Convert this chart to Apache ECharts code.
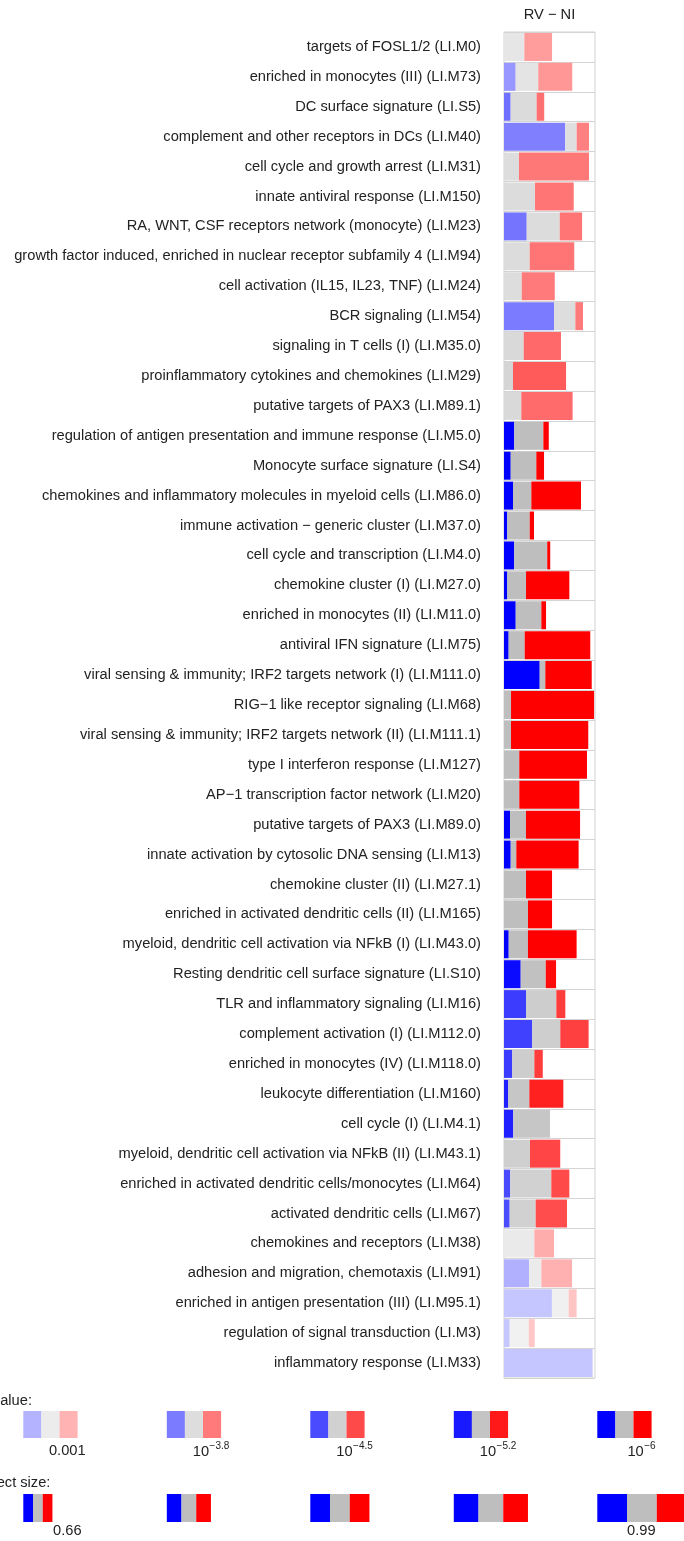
<!DOCTYPE html>
<html>
<head>
<meta charset="utf-8">
<script src="https://cdn.jsdelivr.net/npm/echarts@6/dist/echarts.min.js"></script>
<style>
  html, body { margin: 0; padding: 0; background: #ffffff; }
  #chart { width: 684px; height: 1541px; }
</style>
</head>
<body>
<div id="chart"></div>
<script>
// Module enrichment panel for the contrast RV − NI.
// Each row: bar length = effect size (AUC), split into the share of
// down-regulated (blue), unchanged (grey) and up-regulated (red) genes,
// colour strength = significance of the enrichment.

const contrast = 'RV − NI';

const modules = [
  'targets of FOSL1/2 (LI.M0)',
  'enriched in monocytes (III) (LI.M73)',
  'DC surface signature (LI.S5)',
  'complement and other receptors in DCs (LI.M40)',
  'cell cycle and growth arrest (LI.M31)',
  'innate antiviral response (LI.M150)',
  'RA, WNT, CSF receptors network (monocyte) (LI.M23)',
  'growth factor induced, enriched in nuclear receptor subfamily 4 (LI.M94)',
  'cell activation (IL15, IL23, TNF) (LI.M24)',
  'BCR signaling (LI.M54)',
  'signaling in T cells (I) (LI.M35.0)',
  'proinflammatory cytokines and chemokines (LI.M29)',
  'putative targets of PAX3 (LI.M89.1)',
  'regulation of antigen presentation and immune response (LI.M5.0)',
  'Monocyte surface signature (LI.S4)',
  'chemokines and inflammatory molecules in myeloid cells (LI.M86.0)',
  'immune activation − generic cluster (LI.M37.0)',
  'cell cycle and transcription (LI.M4.0)',
  'chemokine cluster (I) (LI.M27.0)',
  'enriched in monocytes (II) (LI.M11.0)',
  'antiviral IFN signature (LI.M75)',
  'viral sensing & immunity; IRF2 targets network (I) (LI.M111.0)',
  'RIG−1 like receptor signaling (LI.M68)',
  'viral sensing & immunity; IRF2 targets network (II) (LI.M111.1)',
  'type I interferon response (LI.M127)',
  'AP−1 transcription factor network (LI.M20)',
  'putative targets of PAX3 (LI.M89.0)',
  'innate activation by cytosolic DNA sensing (LI.M13)',
  'chemokine cluster (II) (LI.M27.1)',
  'enriched in activated dendritic cells (II) (LI.M165)',
  'myeloid, dendritic cell activation via NFkB (I) (LI.M43.0)',
  'Resting dendritic cell surface signature (LI.S10)',
  'TLR and inflammatory signaling (LI.M16)',
  'complement activation (I) (LI.M112.0)',
  'enriched in monocytes (IV) (LI.M118.0)',
  'leukocyte differentiation (LI.M160)',
  'cell cycle (I) (LI.M4.1)',
  'myeloid, dendritic cell activation via NFkB (II) (LI.M43.1)',
  'enriched in activated dendritic cells/monocytes (LI.M64)',
  'activated dendritic cells (LI.M67)',
  'chemokines and receptors (LI.M38)',
  'adhesion and migration, chemotaxis (LI.M91)',
  'enriched in antigen presentation (III) (LI.M95.1)',
  'regulation of signal transduction (LI.M3)',
  'inflammatory response (LI.M33)'
];

// effect size (AUC) per module
const auc = [
  0.764, 0.875, 0.721, 0.967, 0.967, 0.883, 0.929, 0.886, 0.779, 0.934,
  0.813, 0.841, 0.877, 0.746, 0.720, 0.923, 0.665, 0.754, 0.859, 0.731,
  0.974, 0.982, 0.995, 0.963, 0.956, 0.914, 0.918, 0.910, 0.764, 0.764,
  0.899, 0.786, 0.837, 0.965, 0.713, 0.826, 0.753, 0.809, 0.859, 0.846,
  0.775, 0.874, 0.899, 0.669, 0.987
];

// percentage of module genes going down / up
const downPct = [
  0, 17.1, 16.6, 72.1, 0, 0, 29.1, 0, 0, 63.3,
  0, 0, 0, 23.0, 16.8, 11.7, 11.0, 22.2, 5.1, 27.9,
  5.4, 40.7, 0, 0, 0, 0, 7.9, 9.0, 0, 0,
  6.5, 32.1, 35.9, 33.4, 21.4, 7.3, 20.2, 0, 9.6, 9.0,
  0, 36.8, 66.0, 18.6, 100
];
const upPct = [
  57.7, 49.8, 18.9, 14.5, 82.4, 55.5, 28.6, 63.4, 65.1, 9.7,
  65.4, 85.5, 74.8, 12.1, 19.3, 64.5, 14.3, 6.5, 66.3, 11.2,
  76.0, 52.9, 92.2, 91.7, 81.6, 79.7, 71.1, 83.5, 54.2, 50.0,
  67.0, 19.8, 14.7, 33.5, 21.7, 57.3, 0, 53.8, 27.6, 49.7,
  39.4, 45.1, 11.0, 19.5, 0
];

// log10 of the enrichment p-value
const log10P = [
  -3.33, -3.40, -3.95, -3.73, -3.84, -3.90, -3.90, -3.90, -3.80, -3.80,
  -4.05, -4.25, -4.03, -6.5, -6.5, -6.5, -6.5, -6.5, -6.5, -6.5,
  -6.5, -6.5, -6.5, -6.5, -6.5, -6.5, -6.5, -6.5, -6.5, -6.5,
  -6.5, -5.40, -4.70, -4.65, -4.70, -5.10, -5.10, -4.58, -4.50, -4.47,
  -3.10, -3.04, -2.74, -2.70, -2.74
];

// legend scales
const legendLog10P = [-3, -3.8, -4.5, -5.2, -6];
const legendPBase = ['0.001', '10', '10', '10', '10'];
const legendPExp = ['', '−3.8', '−4.5', '−5.2', '−6'];
const legendAUC = [0.66, 0.7425, 0.825, 0.9075, 0.99];
const legendAUCLabels = ['0.66', '', '', '', '0.99'];

// ---- styling ----
const FONT = '"Liberation Sans", Arial, Helvetica, sans-serif';
const FS = 14.67;
const TXT = '#222222';
const BASE = { down: [0, 0, 255], none: [190, 190, 190], up: [255, 0, 0] };

function strength(lp) {
  const a = 0.3 + 0.273 * (-lp - 3);
  return Math.max(0.12, Math.min(1, a));
}
function tint(rgb, a) {
  const c = rgb.map(v => Math.round(255 - a * (255 - v)));
  return 'rgb(' + c.join(',') + ')';
}

// stacked segment lengths in units of (AUC − 0.5)
function segs(kind) {
  return modules.map((m, i) => {
    const span = auc[i] - 0.5;
    let pct;
    if (kind === 'down') pct = downPct[i];
    else if (kind === 'up') pct = upPct[i];
    else pct = 100 - downPct[i] - upPct[i];
    return {
      value: span * pct / 100,
      itemStyle: { color: tint(BASE[kind], strength(log10P[i])) }
    };
  });
}

const GRID = { left: 504, top: 32, width: 91, height: 1346 };

const chart = echarts.init(document.getElementById('chart'), null, { renderer: 'canvas' });

const option = {
  animation: false,
  backgroundColor: '#ffffff',
  grid: Object.assign({ show: true, borderColor: '#d2d2d2', borderWidth: 1,
                        backgroundColor: 'transparent' }, GRID),
  xAxis: {
    type: 'value', min: 0, max: 0.5, show: false
  },
  yAxis: {
    type: 'category',
    data: modules,
    inverse: true,
    axisLine: { show: false },
    axisTick: { show: false },
    splitLine: { show: true, lineStyle: { color: '#d4d4d4', width: 1 } },
    axisLabel: { margin: 23, fontSize: FS, fontFamily: FONT, color: TXT }
  },
  series: ['down', 'none', 'up'].map(k => ({
    type: 'bar',
    name: k,
    stack: 'evidence',
    barWidth: 28,
    silent: true,
    data: segs(k)
  })),
  graphic: []
};

chart.setOption(option);

// ---- title and legend ----
const meas = document.createElement('canvas').getContext('2d');
function textW(s, size) { meas.font = size + 'px ' + FONT; return meas.measureText(s).width; }

const g = [];
g.push({ type: 'text', x: GRID.left + GRID.width / 2, y: 15,
  style: { text: contrast, font: FS + 'px ' + FONT, fill: TXT,
           textAlign: 'center', textVerticalAlign: 'middle' } });

const LX0 = 23.3, LSTEP = 143.5;

// p-value legend
g.push({ type: 'text', x: -21, y: 1401,
  style: { text: 'P value:', font: FS + 'px ' + FONT, fill: TXT,
           textAlign: 'left', textVerticalAlign: 'middle' } });
legendLog10P.forEach((lp, j) => {
  const x = LX0 + j * LSTEP, w = 18.1, a = strength(lp);
  ['down', 'none', 'up'].forEach((k, n) => {
    g.push({ type: 'rect', shape: { x: x + n * w, y: 1411, width: w, height: 27 },
             style: { fill: tint(BASE[k], a) }, silent: true });
  });
  const cx = x + 44;
  if (!legendPExp[j]) {
    g.push({ type: 'text', x: cx, y: 1451,
      style: { text: legendPBase[j], font: FS + 'px ' + FONT, fill: TXT,
               textAlign: 'center', textVerticalAlign: 'middle' } });
  } else {
    const wb = textW(legendPBase[j], FS), we = textW(legendPExp[j], 10);
    const x0 = cx - (wb + we) / 2;
    g.push({ type: 'text', x: x0, y: 1452,
      style: { text: legendPBase[j], font: FS + 'px ' + FONT, fill: TXT,
               textAlign: 'left', textVerticalAlign: 'middle' } });
    g.push({ type: 'text', x: x0 + wb + 0.5, y: 1446,
      style: { text: legendPExp[j], font: '10px ' + FONT, fill: TXT,
               textAlign: 'left', textVerticalAlign: 'middle' } });
  }
});

// effect size legend, widths taken from the panel's x scale
g.push({ type: 'text', x: -21, y: 1483,
  style: { text: 'Effect size:', font: FS + 'px ' + FONT, fill: TXT,
           textAlign: 'left', textVerticalAlign: 'middle' } });
const px0 = chart.convertToPixel({ gridIndex: 0 }, [0, 0])[0];
legendAUC.forEach((v, j) => {
  const x = LX0 + j * LSTEP;
  const w = chart.convertToPixel({ gridIndex: 0 }, [v - 0.5, 0])[0] - px0;
  ['down', 'none', 'up'].forEach((k, n) => {
    g.push({ type: 'rect', shape: { x: x + n * w / 3, y: 1494, width: w / 3, height: 28 },
             style: { fill: tint(BASE[k], 1) }, silent: true });
  });
  if (legendAUCLabels[j]) {
    g.push({ type: 'text', x: x + 44, y: 1531,
      style: { text: legendAUCLabels[j], font: FS + 'px ' + FONT, fill: TXT,
               textAlign: 'center', textVerticalAlign: 'middle' } });
  }
});

chart.setOption({ graphic: g });
</script>
</body>
</html>
